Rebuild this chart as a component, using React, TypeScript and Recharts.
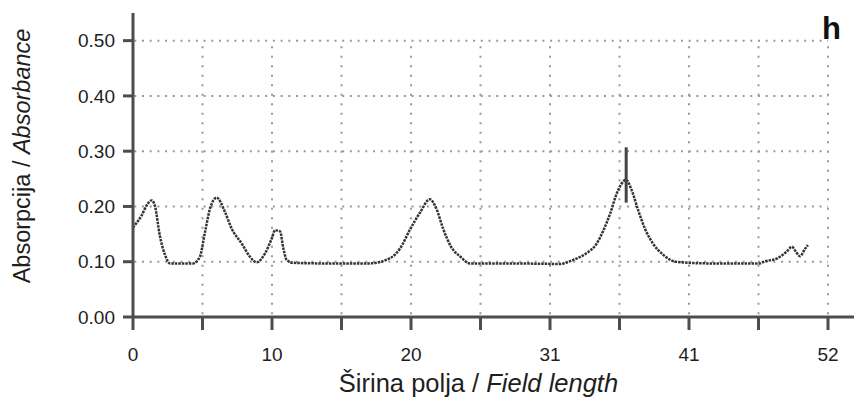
import React from "react";
import { LineChart, Line, XAxis, YAxis, ReferenceLine, Label } from "recharts";

const fieldX = [0, 0.65, 1.1, 1.4, 1.65, 2.0, 2.4, 2.77, 3.5, 4.5, 5.0, 5.39, 5.76, 6.26, 6.88, 7.38, 8.13, 8.75, 9.25, 9.88, 10.38, 10.63, 11.0, 11.25, 11.5, 12.0, 14, 16, 17.7, 19.2, 19.98, 20.7, 21.5, 22.2, 22.7, 23.2, 23.8, 24.5, 25.2, 28, 31.95, 32.9, 33.9, 34.7, 35.2, 35.7, 36.2, 36.9, 37.3, 37.8, 38.3, 38.9, 39.7, 40.6, 43, 46.9, 47.2, 48.2, 48.9, 49.3, 49.6, 49.9, 50.3, 50.5];
const absorbance = [0.162, 0.184, 0.205, 0.211, 0.2, 0.148, 0.112, 0.097, 0.097, 0.097, 0.109, 0.154, 0.196, 0.216, 0.19, 0.16, 0.133, 0.109, 0.099, 0.115, 0.142, 0.157, 0.155, 0.124, 0.103, 0.098, 0.097, 0.097, 0.097, 0.106, 0.124, 0.157, 0.19, 0.213, 0.196, 0.16, 0.127, 0.109, 0.097, 0.097, 0.096, 0.103, 0.115, 0.133, 0.157, 0.187, 0.224, 0.248, 0.23, 0.193, 0.16, 0.133, 0.112, 0.1, 0.097, 0.097, 0.1, 0.106, 0.118, 0.127, 0.118, 0.11, 0.124, 0.13];

const xTicks = [0, 5.2, 10.4, 15.6, 20.8, 26, 31.2, 36.4, 41.6, 46.8, 52];
const yTicks = [0, 0.1, 0.2, 0.3, 0.4, 0.5];
const hGrid = [0.1, 0.2, 0.3, 0.4, 0.5];
const vGrid = [5.2, 10.4, 15.6, 20.8, 26, 31.2, 36.4, 41.6, 46.8, 52];
const markerX = 36.9;
const markerRange = [0.207, 0.307];
const xAxisEnd = 53.95;

const data = fieldX.map((x, i) => ({ x, y: absorbance[i] }));

const FONT = "'Liberation Sans', Arial, sans-serif";

const XTitle = (props: any) => {
  const vb = props.viewBox || {};
  return (
    <text x={vb.x + vb.width / 2 - 2} y={vb.y + 75} textAnchor="middle" fontFamily={FONT} fontSize={25.5} fill="#1e1e1e">
      <tspan>Širina polja / </tspan>
      <tspan fontStyle="italic">Field length</tspan>
    </text>
  );
};

const YTitle = (props: any) => {
  const vb = props.viewBox || {};
  const cx = 30;
  const cy = vb.y + vb.height / 2 - 9;
  return (
    <text x={cx} y={cy} textAnchor="middle" transform={`rotate(-90 ${cx} ${cy})`} fontFamily={FONT} fontSize={23.5} fill="#1e1e1e">
      <tspan>Absorpcija / </tspan>
      <tspan fontStyle="italic">Absorbance</tspan>
    </text>
  );
};

export default function App() {
  return (
    <div style={{ position: "absolute", left: 0, top: 0, width: 854, height: 400, background: "#fff" }}>
      <LineChart width={854} height={400} data={data} margin={{ top: 13, right: 26, bottom: 0, left: 0 }}>
        <XAxis
          type="number"
          dataKey="x"
          domain={[0, 52]}
          ticks={xTicks}
          interval={0}
          tickFormatter={(v: number, i: number) => (i % 2 === 0 ? String(Math.floor(v + 1e-6)) : "")}
          height={83}
          tickSize={13}
          tickMargin={18}
          axisLine={{ stroke: "#4d4d4d", strokeWidth: 3 }}
          tickLine={{ stroke: "#4d4d4d", strokeWidth: 3 }}
          tick={{ fontSize: 19, fill: "#1e1e1e", fontFamily: FONT }}
        >
          <Label content={<XTitle />} />
        </XAxis>
        <YAxis
          type="number"
          domain={[0, 0.55]}
          ticks={yTicks}
          interval={0}
          tickFormatter={(v: number) => v.toFixed(2)}
          width={133}
          tickSize={10}
          tickMargin={8}
          axisLine={{ stroke: "#4d4d4d", strokeWidth: 3 }}
          tickLine={{ stroke: "#4d4d4d", strokeWidth: 3 }}
          tick={{ fontSize: 19, fill: "#1e1e1e", fontFamily: FONT }}
        >
          <Label content={<YTitle />} />
        </YAxis>
        {hGrid.map((v) => (
          <ReferenceLine
            key={"h" + v}
            segment={[{ x: 0, y: v }, { x: 52, y: v }]}
            stroke="#999"
            strokeWidth={2}
            strokeDasharray="2 5.7"
            strokeDashoffset={-9}
            ifOverflow="visible"
          />
        ))}
        {vGrid.map((v) => (
          <ReferenceLine
            key={"v" + v}
            segment={[{ x: v, y: 0.49 }, { x: v, y: 0 }]}
            stroke="#999"
            strokeWidth={2}
            strokeDasharray="2 7.5"
            ifOverflow="visible"
          />
        ))}
        <ReferenceLine
          segment={[{ x: 52, y: 0 }, { x: xAxisEnd, y: 0 }]}
          stroke="#4d4d4d"
          strokeWidth={3}
          ifOverflow="visible"
        />
        <Line
          type="monotone"
          dataKey="y"
          stroke="#333"
          strokeWidth={2.5}
          strokeDasharray="2.5 1"
          dot={false}
          isAnimationActive={false}
        />
        <ReferenceLine
          segment={[{ x: markerX, y: markerRange[0] }, { x: markerX, y: markerRange[1] }]}
          stroke="#444"
          strokeWidth={3}
          ifOverflow="visible"
        />
      </LineChart>
      <div style={{ position: "absolute", left: 822, top: 13, fontFamily: FONT, fontWeight: "bold", fontSize: 31, color: "#111", lineHeight: 1 }}>h</div>
    </div>
  );
}
